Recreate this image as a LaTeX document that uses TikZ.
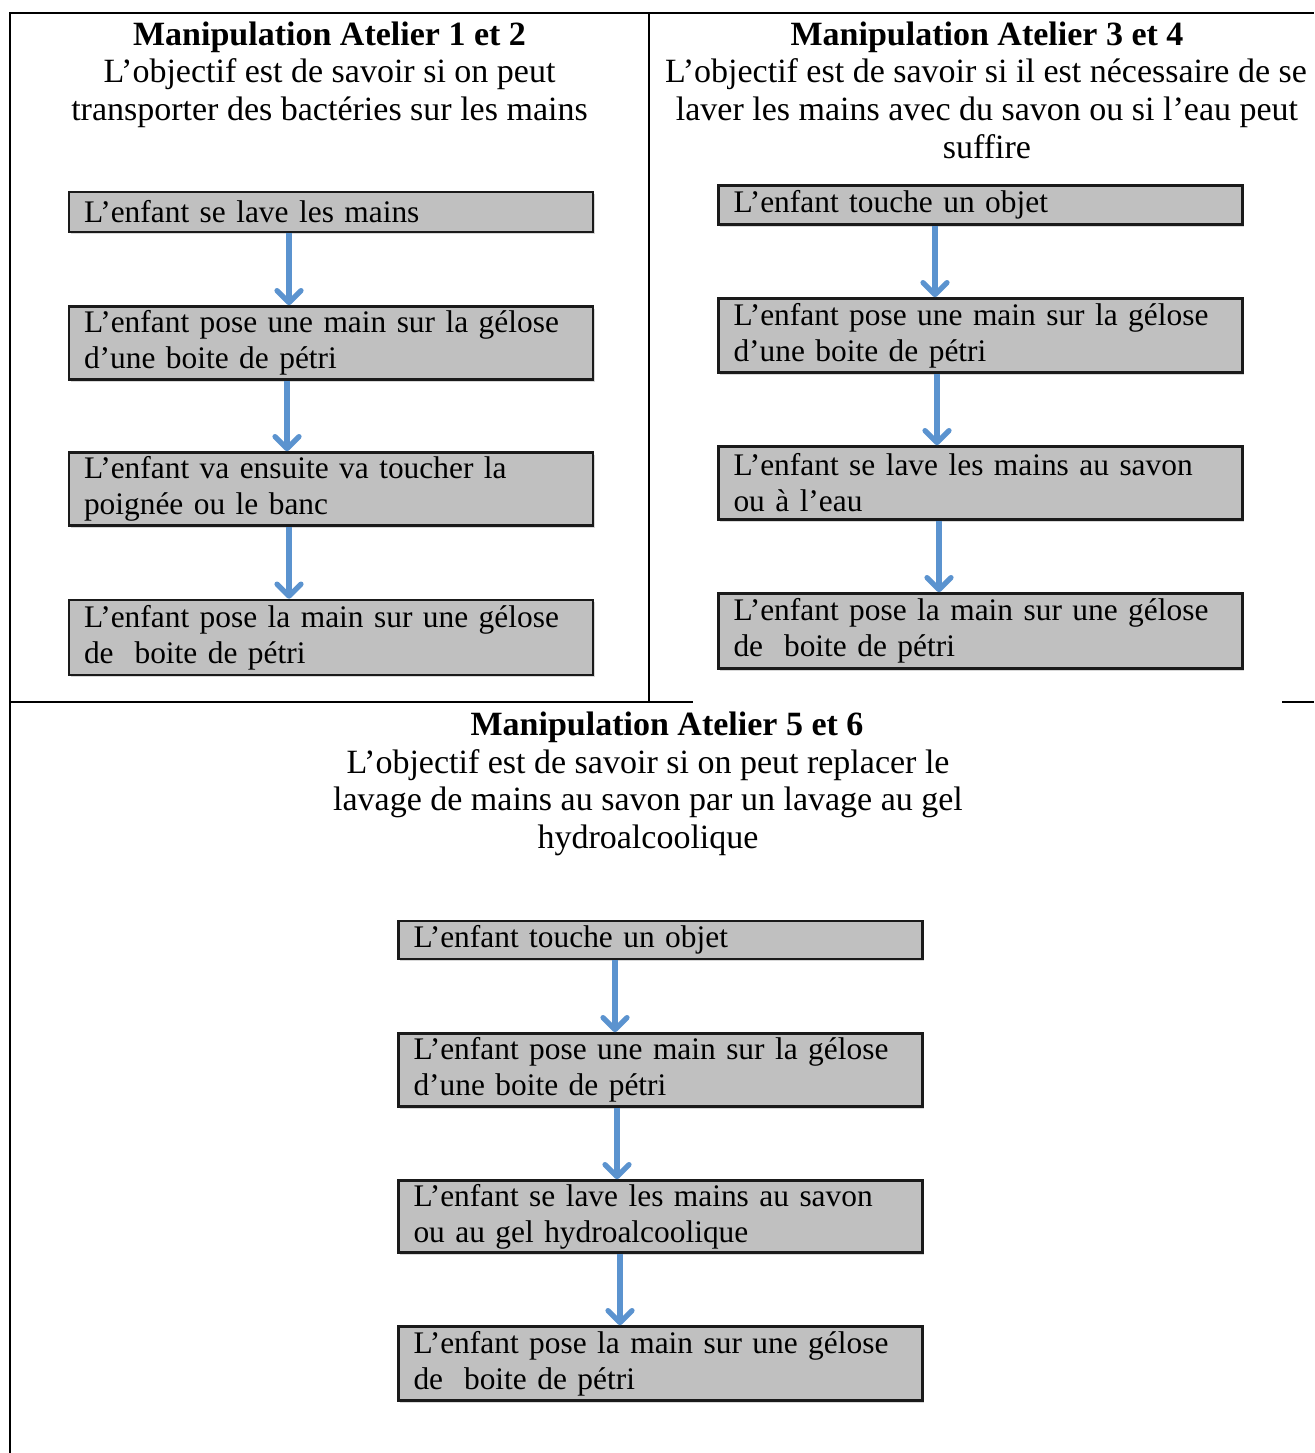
\documentclass[tikz,border=0pt]{standalone}
\usepackage{fontspec}
\setmainfont{Liberation Serif}
\usetikzlibrary{arrows.meta,shadows}
\definecolor{boxfill}{HTML}{C0C0C0}
\definecolor{boxline}{HTML}{1A1A1A}
\definecolor{flowblue}{HTML}{5B93CF}
\begin{document}
\begin{tikzpicture}[x=1pt,y=-1pt,
  frame/.style={line width=2.6pt,black},
  headline/.style={anchor=base,inner sep=0pt,font=\fontsize{34}{37.5}\selectfont},
  headtitle/.style={headline,font=\fontsize{34}{37.5}\selectfont\bfseries},
  stepbox/.style={draw=boxline,fill=boxfill,line width=2.6pt,rectangle,
    text width=494pt,align=left,inner xsep=15pt,inner ysep=0pt,
    font=\fontsize{31.4}{36}\selectfont,
    drop shadow={shadow xshift=1.5pt,shadow yshift=-2pt,fill=black!30,opacity=0.5}},
  flow/.style={draw=flowblue,line width=5.2pt,
    -{Straight Barb[length=12pt,width=24pt,round]}}
]
\useasboundingbox (0,0) rectangle (1314,1453);
% frame
\draw[frame] (10,1453) -- (10,13) -- (1314,13);
\draw[frame] (649,13) -- (649,702);
\draw[frame] (10,702) -- (693,702);
\draw[frame] (1282,702) -- (1314,702);

% headings left
\node[headtitle] (ht1) at (329.5,45.5) {Manipulation Atelier 1 et 2};
\node[headline] (ha1) at (329.5,83) {L’objectif est de savoir si on peut};
\node[headline] (hb1) at (329.5,120.5) {transporter des bactéries sur les mains};

% headings right
\node[headtitle] (ht2) at (987,45.5) {Manipulation Atelier 3 et 4};
\node[headline] (ha2) at (986,83) {L’objectif est de savoir si il est nécessaire de se};
\node[headline] (hb2) at (987,120.5) {laver les mains avec du savon ou si l’eau peut};
\node[headline] (hc2) at (987,158) {suffire};

% headings bottom
\node[headtitle] (ht3) at (667,735.5) {Manipulation Atelier 5 et 6};
\node[headline] (ha3) at (648,773) {L’objectif est de savoir si on peut replacer le};
\node[headline] (hb3) at (648,810.5) {lavage de mains au savon par un lavage au gel};
\node[headline] (hc3) at (648,848) {hydroalcoolique};

% left column boxes
\node[stepbox,minimum height=40pt] (l1) at (331,212) {L’enfant se lave les mains};
\node[stepbox,minimum height=73pt] (l2) at (331,343) {L’enfant pose une main sur la gélose\\d’une boite de pétri};
\node[stepbox,minimum height=73pt] (l3) at (331,489) {L’enfant va ensuite va toucher la\\poignée ou le banc};
\node[stepbox,minimum height=75pt] (l4) at (331,637.5) {L’enfant pose la main sur une gélose\\de\ \ boite de pétri};

% right column boxes
\node[stepbox,minimum height=39pt] (r1) at (980.5,205) {L’enfant touche un objet};
\node[stepbox,minimum height=74pt] (r2) at (980.5,335.5) {L’enfant pose une main sur la gélose\\d’une boite de pétri};
\node[stepbox,minimum height=73pt] (r3) at (980.5,483) {L’enfant se lave les mains au savon\\ou à l’eau};
\node[stepbox,minimum height=75pt] (r4) at (980.5,631) {L’enfant pose la main sur une gélose\\de\ \ boite de pétri};

% bottom boxes
\node[stepbox,minimum height=38pt] (b1) at (660.5,940) {L’enfant touche un objet};
\node[stepbox,minimum height=73pt] (b2) at (660.5,1070) {L’enfant pose une main sur la gélose\\d’une boite de pétri};
\node[stepbox,minimum height=72pt] (b3) at (660.5,1216.5) {L’enfant se lave les mains au savon\\ou au gel hydroalcoolique};
\node[stepbox,minimum height=74pt] (b4) at (660.5,1363.5) {L’enfant pose la main sur une gélose\\de\ \ boite de pétri};

% arrows
\draw[flow] ([xshift=-42pt]l1.south) -- ([xshift=-42pt]l2.north);
\draw[flow] ([xshift=-44pt]l2.south) -- ([xshift=-44pt]l3.north);
\draw[flow] ([xshift=-42pt]l3.south) -- ([xshift=-42pt]l4.north);
\draw[flow] ([xshift=-45.5pt]r1.south) -- ([xshift=-45.5pt]r2.north);
\draw[flow] ([xshift=-43.5pt]r2.south) -- ([xshift=-43.5pt]r3.north);
\draw[flow] ([xshift=-41.5pt]r3.south) -- ([xshift=-41.5pt]r4.north);
\draw[flow] ([xshift=-45.5pt]b1.south) -- ([xshift=-45.5pt]b2.north);
\draw[flow] ([xshift=-43.5pt]b2.south) -- ([xshift=-43.5pt]b3.north);
\draw[flow] ([xshift=-40.5pt]b3.south) -- ([xshift=-40.5pt]b4.north);
\end{tikzpicture}
\end{document}
